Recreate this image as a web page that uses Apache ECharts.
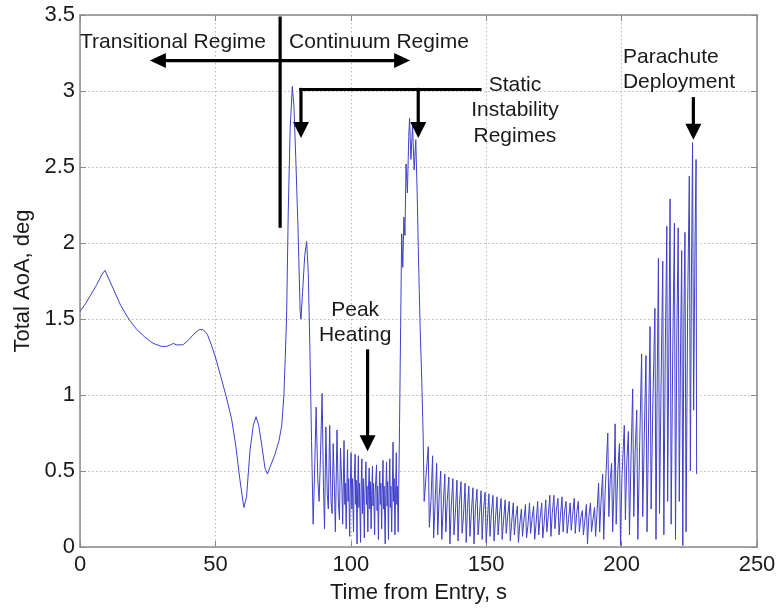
<!DOCTYPE html>
<html>
<head>
<meta charset="utf-8">
<script src="https://cdn.jsdelivr.net/npm/echarts@6/dist/echarts.min.js"></script>
<style>html,body{margin:0;padding:0;background:#fff}#c{width:781px;height:609px}</style>
</head>
<body>
<div id="c"></div>
<script>
// ---- Data (time s, total AoA deg) ----
const smoothPhase = [[0,1.55],[2,1.60],[4,1.66],[6,1.72],[8,1.79],[9.2,1.82],[11,1.75],[13,1.67],[15,1.59],[18,1.50],[21,1.43],[24,1.38],[27,1.34],[30,1.32],[32,1.32],[33.5,1.33],[34.5,1.34],[35.5,1.33],[38,1.33],[40,1.36],[42,1.40],[44,1.43],[45.5,1.43],[47,1.40],[48.5,1.33],[50,1.25],[52,1.12],[54,0.99],[56,0.84],[57.5,0.67],[59,0.45],[60.5,0.26],[61.5,0.33],[62.8,0.64],[64,0.80],[65,0.857],[66,0.80],[67.2,0.66],[68.3,0.52],[69.2,0.48],[70.5,0.54],[72,0.61],[73.5,0.70],[74.5,0.80],[75.3,1.00],[75.8,1.25],[76.3,1.52],[76.9,2.2],[77.6,2.75],[78.4,3.03],[79,2.9],[79.7,2.55],[80.5,2.1],[81.3,1.55],[81.6,1.50],[82.2,1.68],[83,1.92],[83.7,2.01],[84.3,1.80],[84.9,1.30],[85.5,0.70],[86.1,0.15]];
const heatingPhase = [[86.7,0.55],[87.2,0.92],[87.8,0.45],[88.3,0.30],[88.8,0.60],[89.4,1.01],[89.9,0.40],[90.3,0.12],[90.8,0.79],[91.3,0.35],[91.7,0.25],[92.2,0.80],[92.7,0.30],[93.1,0.22],[93.5,0.68],[94.0,0.35],[94.3,0.10],[94.9,0.77],[95.4,0.30],[95.8,0.18],[96.2,0.65],[96.7,0.40],[97.0,0.15],
  [97.5,0.70],[97.8,0.28],[98.0,0.42],[98.3,0.12],[98.5,0.35],
  [98.8,0.64],[99.0,0.30],[99.2,0.45],[99.6,0.07],[99.8,0.38],
  [100.1,0.62],[100.4,0.25],[100.6,0.45],[101.0,0.10],[101.2,0.40],
  [101.6,0.61],[101.8,0.28],[102.0,0.44],[102.3,0.02],[102.5,0.36],
  [102.8,0.60],[103.0,0.26],[103.2,0.42],[103.6,0.03],[103.8,0.38],
  [104.1,0.58],[104.3,0.22],[104.6,0.45],[105.0,0.06],[105.2,0.35],
  [105.6,0.56],[105.8,0.28],[106.0,0.40],[106.3,0.10],[106.5,0.37],
  [106.8,0.52],[107.0,0.25],[107.2,0.43],[107.5,0.12],[107.7,0.34],
  [108.0,0.53],[108.2,0.27],[108.4,0.42],[108.8,0.08],[109.0,0.36],
  [109.5,0.54],[109.7,0.24],[109.9,0.40],[110.2,0.05],[110.4,0.33],
  [110.7,0.50],[110.9,0.28],[111.1,0.42],[111.4,0.12],[111.6,0.35],
  [111.9,0.57],[112.1,0.25],[112.3,0.40],[112.7,0.02],[112.9,0.34],
  [113.2,0.56],[113.4,0.27],[113.6,0.43],[113.9,0.05],[114.1,0.36],
  [114.4,0.58],[114.6,0.26],[114.8,0.40],[115.1,0.10],[115.3,0.35],
  [115.6,0.69],[115.8,0.30],[116.0,0.45],[116.3,0.08],[116.5,0.32],
  [116.8,0.62],[117.0,0.28],[117.2,0.40],[117.5,0.10]];
const instabilityPhase = [[118.0,0.8],[118.4,1.45],[118.8,2.06],[119.2,1.84],[119.6,2.17],[120.0,2.05],[120.4,2.52],[120.9,2.33],[121.4,2.70],[121.7,2.82],[122.2,2.55],[122.8,2.77],[123.4,2.48],[124.0,2.68],[124.5,2.33],[125.0,1.90],[125.6,1.45],[126.2,1.10],[126.7,0.75],[127.1,0.30]];
const dampedPhase = [[128.6,0.66],[129.0,0.13],[129.6,0.30],[130.2,0.60],[130.6,0.06],[131.1,0.28],[131.7,0.55],[132.1,0.08],[132.6,0.32],[133.2,0.50],[133.6,0.05],[134.1,0.25],[134.7,0.48],[135.1,0.10],[135.6,0.30],[136.2,0.46],[136.6,0.02],[137.1,0.27],[137.7,0.45],[138.1,0.08],[138.6,0.22],[139.2,0.44],[139.6,0.04],[140.1,0.28],[140.7,0.43],[141.1,0.09],[141.6,0.20],[142.2,0.42],[142.6,0.03],[143.1,0.26],[143.6,0.40],[144.0,0.07],[144.5,0.22],[145.1,0.39],[145.5,0.02],[146.0,0.25],[146.6,0.38],[147.0,0.08],[147.5,0.20],[148.1,0.37],[148.5,0.05],[149.0,0.24],[149.6,0.36],[150.0,0.03],[150.5,0.19],[151.0,0.35],[151.4,0.07],[151.9,0.22],[152.5,0.34],[152.9,0.04],[153.4,0.18],[154.0,0.33],[154.4,0.08],[154.9,0.21],[155.5,0.32],[155.9,0.05],[156.4,0.17],[157.0,0.31],[157.4,0.09],[157.9,0.20],[158.5,0.30],[158.9,0.04],[159.4,0.16],[160.0,0.29],[160.4,0.08],[160.9,0.19],[161.5,0.27],[161.9,0.03],[162.4,0.15],[163.0,0.25],[163.4,0.07],[163.9,0.17],[164.5,0.28],[164.9,0.06],[165.4,0.14],[166.0,0.29],[166.4,0.09],[166.9,0.18],[167.5,0.27],[167.9,0.05],[168.4,0.15],[169.0,0.30],[169.4,0.08],[169.9,0.19],[170.5,0.29],[170.9,0.06],[171.4,0.16],[172.0,0.31],[172.4,0.10],[172.9,0.20],[173.5,0.34],[173.9,0.07],[174.4,0.22],[175.0,0.34],[175.4,0.12],[175.9,0.24],[176.5,0.32],[176.9,0.08],[177.4,0.20],[178.0,0.33],[178.4,0.10],[178.9,0.23],[179.5,0.30],[179.9,0.09],[180.4,0.18],[181.0,0.29],[181.4,0.11],[181.9,0.21],[182.5,0.32],[182.9,0.09],[183.4,0.22],[184.0,0.30],[184.4,0.10],[184.9,0.19],[185.5,0.24],[185.9,0.08],[186.4,0.17],[187.0,0.28],[187.4,0.02],[187.9,0.20],[188.5,0.29],[188.9,0.10],[189.4,0.18],[190.0,0.26],[190.4,0.07],[190.9,0.22],[191.5,0.42],[191.9,0.10],[192.4,0.30],[193.0,0.48],[193.4,0.05],[193.9,0.35]];
const parachutePhase = [[194.9,0.75],[195.3,0.20],[195.8,0.45],[196.3,0.55],[196.7,0.10],[197.2,0.40],[197.6,0.81],[198.0,0.15],[198.6,0.50],[199.2,0.68],[199.6,0.01],[200.1,0.45],[201.0,0.80],[201.4,0.18],[201.9,0.55],[202.5,0.76],[202.9,0.08],[203.5,0.60],[204.1,1.04],[204.5,0.20],[205.0,0.62],[205.6,0.90],[206.0,0.05],[206.7,0.70],[207.4,1.27],[207.8,0.20],[208.4,0.75],[209.0,1.26],[209.4,0.10],[210.0,0.85],[210.5,1.45],[210.9,0.25],[211.5,0.90],[212.3,1.57],[212.7,0.05],[213.1,1.00],[213.6,1.90],[214.0,0.22],[214.6,1.10],[215.2,1.88],[215.6,0.08],[216.1,1.25],[216.7,2.11],[217.0,0.30],[217.4,1.20],[217.9,2.29],[218.3,0.15],[218.9,1.30],[219.5,2.13],[219.9,0.05],[220.4,1.40],[220.9,2.10],[221.3,0.30],[221.8,1.35],[222.2,1.95],[222.6,0.01],[223.0,1.50],[223.4,2.07],[223.8,0.10],[224.4,1.60],[225.0,2.44],[225.4,0.50],[225.8,1.80],[226.2,2.66],[226.6,0.90],[227.1,2.00],[227.5,2.55],[227.7,0.48]];

const xTicks = {min: 0, max: 250, interval: 50};
const yTicks = {min: 0, max: 3.5, interval: 0.5};

// annotation anchors in data coordinates
const regimeDivider = {t: 73.9, v0: 3.49, v1: 2.10};
const regimeArrow = {t0: 25.8, t1: 121.9, v: 3.20};
const staticBracket = {t0: 81.6, t1: 148.3, v: 3.01, arrowT: [81.6, 124.9], tipV: 2.69};
const parachuteArrow = {t: 226.5, v0: 2.96, v1: 2.68};
const heatingArrow = {t: 106.2, v0: 1.30, v1: 0.63};
const labels = [
  {text: 'Transitional Regime', t: 0.0, v: 3.32, align: 'left'},
  {text: 'Continuum Regime', t: 77.2, v: 3.32, align: 'left'},
  {text: 'Static', t: 160.6, v: 3.04, align: 'center'},
  {text: 'Instability', t: 160.6, v: 2.875, align: 'center'},
  {text: 'Regimes', t: 160.6, v: 2.705, align: 'center'},
  {text: 'Parachute', t: 200.5, v: 3.225, align: 'left'},
  {text: 'Deployment', t: 200.5, v: 3.06, align: 'left'},
  {text: 'Peak', t: 101.6, v: 1.56, align: 'center'},
  {text: 'Heating', t: 101.6, v: 1.395, align: 'center'}
];

const FONT = '"Liberation Sans", Arial, Helvetica, sans-serif';
const data = smoothPhase.concat(heatingPhase, instabilityPhase, dampedPhase, parachutePhase);

const chart = echarts.init(document.getElementById('c'), null, {renderer: 'canvas'});
const frame = '#8a8a8a';
const txt = '#1a1a1a';
const gridLine = {show: true, lineStyle: {color: '#b8b8b8', type: [1.5, 2.5], width: 1}};
chart.setOption({
  animation: false,
  backgroundColor: '#fff',
  grid: {left: 80, right: 24, top: 15, bottom: 62, show: false},
  xAxis: [{
    type: 'value', ...xTicks, position: 'bottom',
    name: 'Time from Entry, s', nameLocation: 'middle', nameGap: 35,
    nameTextStyle: {fontFamily: FONT, fontSize: 22, color: txt},
    axisLine: {show: true, onZero: false, lineStyle: {color: frame, width: 1.5}},
    axisTick: {show: true, inside: true, length: 6, lineStyle: {color: frame}},
    axisLabel: {fontFamily: FONT, fontSize: 22, color: txt, margin: 7},
    splitLine: gridLine
  }, {
    type: 'value', ...xTicks, position: 'top',
    axisLine: {show: true, onZero: false, lineStyle: {color: frame, width: 1.5}},
    axisTick: {show: true, inside: true, length: 6, lineStyle: {color: frame}},
    axisLabel: {show: false}, splitLine: {show: false}
  }],
  yAxis: [{
    type: 'value', ...yTicks, position: 'left',
    name: 'Total AoA, deg', nameLocation: 'middle', nameGap: 41, nameRotate: 90,
    nameTextStyle: {fontFamily: FONT, fontSize: 22, color: txt},
    axisLine: {show: true, onZero: false, lineStyle: {color: frame, width: 1.5}},
    axisTick: {show: true, inside: true, length: 6, lineStyle: {color: frame}},
    axisLabel: {fontFamily: FONT, fontSize: 22, color: txt, margin: 5},
    splitLine: gridLine
  }, {
    type: 'value', ...yTicks, position: 'right',
    axisLine: {show: true, onZero: false, lineStyle: {color: frame, width: 1.5}},
    axisTick: {show: true, inside: true, length: 6, lineStyle: {color: frame}},
    axisLabel: {show: false}, splitLine: {show: false}
  }],
  series: [{
    type: 'line', data: data, showSymbol: false, symbol: 'none',
    lineStyle: {color: '#4040c8', width: 1}, xAxisIndex: 0, yAxisIndex: 0,
    clip: true
  }]
});

function px(t, v) { return chart.convertToPixel({xAxisIndex: 0, yAxisIndex: 0}, [t, v]); }
const black = '#000';
const W = 3.2;
const g = [];
function seg(a, b) { g.push({type: 'line', shape: {x1: a[0], y1: a[1], x2: b[0], y2: b[1]}, style: {stroke: black, lineWidth: W}, z: 100}); }
function headDown(tip) { g.push({type: 'polygon', shape: {points: [[tip[0]-8, tip[1]-16], [tip[0]+8, tip[1]-16], [tip[0], tip[1]]]}, style: {fill: black}, z: 101}); }
function headLeft(tip) { g.push({type: 'polygon', shape: {points: [[tip[0]+16, tip[1]-7.5], [tip[0]+16, tip[1]+7.5], [tip[0], tip[1]]]}, style: {fill: black}, z: 101}); }
function headRight(tip) { g.push({type: 'polygon', shape: {points: [[tip[0]-16, tip[1]-7.5], [tip[0]-16, tip[1]+7.5], [tip[0], tip[1]]]}, style: {fill: black}, z: 101}); }

// regime divider and double arrow
seg(px(regimeDivider.t, regimeDivider.v0), px(regimeDivider.t, regimeDivider.v1));
const la = px(regimeArrow.t0, regimeArrow.v), ra = px(regimeArrow.t1, regimeArrow.v);
seg([la[0] + 10, la[1]], [ra[0] - 10, ra[1]]);
headLeft(la); headRight(ra);
// static instability bracket
const b0 = px(staticBracket.t0, staticBracket.v), b1 = px(staticBracket.t1, staticBracket.v);
seg([b0[0] - W / 2, b0[1]], b1);
staticBracket.arrowT.forEach(t => {
  const top = px(t, staticBracket.v), tip = px(t, staticBracket.tipV);
  seg([top[0], top[1] - W / 2], [tip[0], tip[1] - 10]);
  headDown(tip);
});
// parachute arrow
{ const a = px(parachuteArrow.t, parachuteArrow.v0), b = px(parachuteArrow.t, parachuteArrow.v1); seg(a, [b[0], b[1] - 10]); headDown(b); }
// peak heating arrow
{ const a = px(heatingArrow.t, heatingArrow.v0), b = px(heatingArrow.t, heatingArrow.v1); seg(a, [b[0], b[1] - 10]); headDown(b); }
// labels
labels.forEach(l => {
  const p = px(l.t, l.v);
  g.push({type: 'text', x: p[0], y: p[1], z: 102, style: {text: l.text, fill: txt, font: '21px ' + FONT, align: l.align, verticalAlign: 'middle'}});
});
chart.setOption({graphic: g});
</script>
</body>
</html>
